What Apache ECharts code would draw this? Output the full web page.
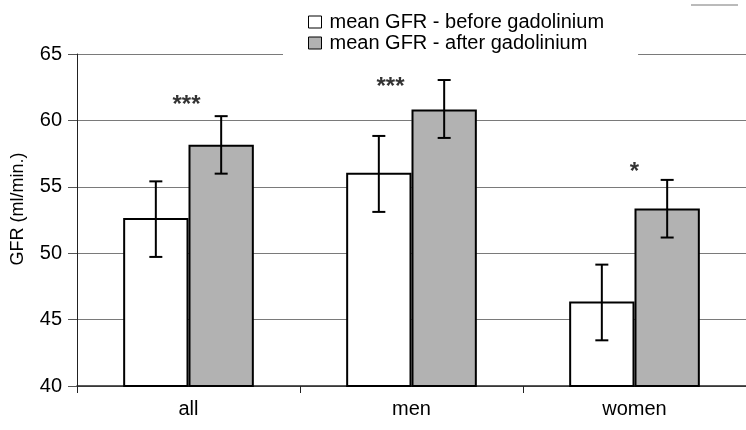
<!DOCTYPE html>
<html>
<head>
<meta charset="utf-8">
<script src="https://cdn.jsdelivr.net/npm/echarts@6/dist/echarts.min.js"></script>
<style>
html,body{margin:0;padding:0;background:#fff;}
#c{width:746px;height:430px;}
</style>
</head>
<body>
<div id="c"></div>
<script>
// ---- data ----
const categories = ['all', 'men', 'women'];
const seriesNames = ['mean GFR - before gadolinium', 'mean GFR - after gadolinium'];
const beforeMean = [52.65, 56.05, 46.37];
const afterMean  = [58.17, 60.83, 53.36];
const beforeLow  = [49.72, 53.11, 43.44];
const beforeHigh = [55.41, 58.83, 49.14];
const afterLow   = [55.99, 58.68, 51.18];
const afterHigh  = [60.32, 63.04, 55.52];
const starLabels = ['***', '***', '*'];
const starValues = [61.1, 62.45, 56.1];
const yTicks = [40, 45, 50, 55, 60, 65];

// ---- styling ----
const FONT = 'Liberation Sans, Arial, sans-serif';
const starOffsetX = [-2, -21, 0];
const barFrac = 0.293; // bar width as fraction of category band

const chart = echarts.init(document.getElementById('c'));

function errSeries(low, high, side) {
  return {
    type: 'custom',
    z: 5,
    data: categories.map((c, i) => [i, low[i], high[i]]),
    encode: { x: 0, y: [1, 2] },
    renderItem: function (params, api) {
      const idx = api.value(0);
      const lo = api.coord([idx, api.value(1)]);
      const hi = api.coord([idx, api.value(2)]);
      const band = api.size([1, 0])[0];
      const x = lo[0] + side * band * barFrac / 2;
      const cap = 6.5;
      const st = { stroke: '#000', lineWidth: 2 };
      return {
        type: 'group',
        children: [
          { type: 'line', shape: { x1: x, y1: lo[1], x2: x, y2: hi[1] }, style: st },
          { type: 'line', shape: { x1: x - cap, y1: lo[1], x2: x + cap, y2: lo[1] }, style: st },
          { type: 'line', shape: { x1: x - cap, y1: hi[1], x2: x + cap, y2: hi[1] }, style: st }
        ]
      };
    }
  };
}

const option = {
  backgroundColor: '#fff',
  animation: false,
  textStyle: { fontFamily: FONT },
  grid: { left: 77, right: -3, top: 54, bottom: 44, containLabel: false },
  legend: {
    orient: 'vertical',
    left: 283,
    top: 0,
    padding: [12, 34, 5, 25],
    backgroundColor: '#fff',
    itemGap: 1,
    itemWidth: 13,
    itemHeight: 12,
    icon: 'rect',
    itemStyle: { borderColor: '#000', borderWidth: 1 },
    textStyle: { fontSize: 20, color: '#000', fontFamily: FONT, padding: [0, 0, 0, 3] },
    data: seriesNames
  },
  xAxis: {
    type: 'category',
    data: categories,
    axisLine: { lineStyle: { color: '#222', width: 1.5 } },
    axisTick: { show: true, length: 7, lineStyle: { color: '#222' } },
    axisLabel: { fontSize: 20, color: '#000', margin: 13, fontFamily: FONT },
    splitLine: { show: false }
  },
  yAxis: {
    type: 'value',
    min: yTicks[0],
    max: yTicks[yTicks.length - 1],
    interval: yTicks[1] - yTicks[0],
    name: 'GFR (ml/min.)',
    nameLocation: 'middle',
    nameGap: 50,
    nameTextStyle: { fontSize: 18, color: '#000', fontFamily: FONT, padding: [0, 0, 0, 22] },
    axisLine: { show: true, lineStyle: { color: '#222', width: 1 } },
    axisTick: { show: true, length: 9, lineStyle: { color: '#555' } },
    axisLabel: { fontSize: 20, color: '#000', margin: 15, fontFamily: FONT },
    splitLine: { show: true, lineStyle: { color: '#7a7a7a', width: 1 } }
  },
  series: [
    {
      name: seriesNames[0],
      type: 'bar',
      data: beforeMean,
      barWidth: (barFrac * 100) + '%',
      barGap: '0%',
      itemStyle: { color: '#ffffff', borderColor: '#000', borderWidth: 2 },
      z: 3
    },
    {
      name: seriesNames[1],
      type: 'bar',
      data: afterMean,
      barWidth: (barFrac * 100) + '%',
      barGap: '0%',
      itemStyle: { color: '#b2b2b2', borderColor: '#000', borderWidth: 2 },
      z: 3
    },
    errSeries(beforeLow, beforeHigh, -1),
    errSeries(afterLow, afterHigh, 1),
    {
      type: 'scatter',
      symbolSize: 0,
      z: 6,
      data: categories.map((c, i) => ({
        value: [i, starValues[i]],
        label: {
          show: true,
          position: 'inside',
          formatter: starLabels[i],
          offset: [starOffsetX[i], 0],
          fontSize: 24,
          fontWeight: 'bold',
          color: '#000',
          fontFamily: FONT
        }
      }))
    }
  ],
  graphic: [
    { type: 'line', shape: { x1: 691, y1: 5, x2: 738, y2: 5 }, style: { stroke: '#777', lineWidth: 1 } }
  ]
};

chart.setOption(option);
</script>
</body>
</html>
